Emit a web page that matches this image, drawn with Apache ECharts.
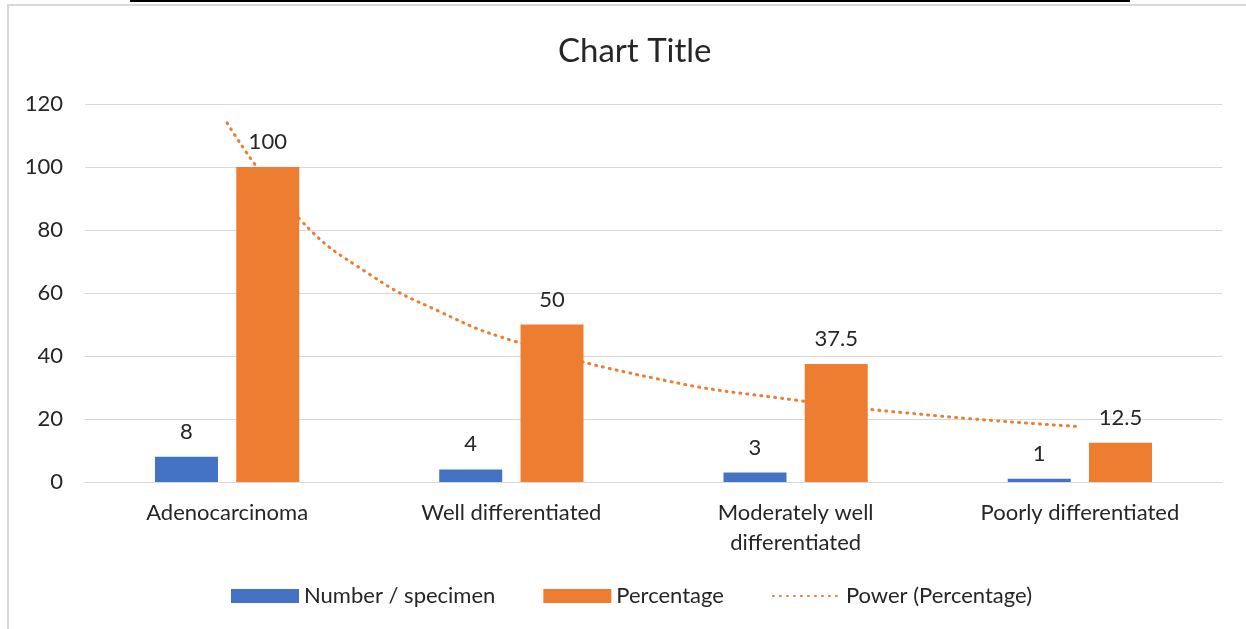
<!DOCTYPE html>
<html>
<head>
<meta charset="utf-8">
<title>Chart Title</title>
<script src="https://cdn.jsdelivr.net/npm/echarts@6/dist/echarts.min.js"></script>
<style>
  html, body { margin: 0; padding: 0; background: #fff; }
  #chart { width: 1246px; height: 629px; }
</style>
</head>
<body>
<div id="chart"></div>
<script>
  // values
  var categories = ['Adenocarcinoma', 'Well differentiated', 'Moderately well\ndifferentiated', 'Poorly differentiated'];
  var numberSpecimen = [8, 4, 3, 1];
  var percentage = [100, 50, 37.5, 12.5];
  // dotted power trend, read at positions along the category axis (1 = first category)
  var trendX = [1, 1.25, 1.5, 1.75, 2, 2.5, 3, 3.5, 4];
  var trendY = [114, 84, 66, 54, 45, 33, 26, 21, 17.6];
  var yTicks = { min: 0, max: 120, interval: 20 };

  var trendData = trendX.map(function (x, i) { return [x, trendY[i]]; });
  var font = 'Lato, "Open Sans", sans-serif';
  var textColor = '#262626';

  var chart = echarts.init(document.getElementById('chart'));
  chart.setOption({
    animation: false,
    textStyle: { fontFamily: font },
    title: {
      text: 'Chart Title',
      left: 553,
      top: 30,
      textStyle: { fontSize: 33, fontWeight: 'normal', color: '#262626', fontFamily: font }
    },
    graphic: [
      // chart frame
      { type: 'rect', shape: { x: 8, y: 5, width: 1250, height: 640 }, style: { fill: 'none', stroke: '#d9d9d9', lineWidth: 2 }, silent: true },
      // bit of table above the chart
      { type: 'polyline', shape: { points: [[131, -2], [131, 1], [1129, 1], [1129, -2]] }, style: { fill: 'none', stroke: '#000', lineWidth: 2 }, silent: true },
      { type: 'line', shape: { x1: 643, y1: -2, x2: 643, y2: 1 }, style: { stroke: '#000', lineWidth: 2 }, silent: true },
      { type: 'line', shape: { x1: 917, y1: -2, x2: 917, y2: 1 }, style: { stroke: '#000', lineWidth: 2 }, silent: true }
    ],
    legend: {
      top: 580,
      left: 226,
      itemWidth: 68,
      itemHeight: 14,
      itemGap: 48,
      textStyle: { fontSize: 22, color: textColor, fontFamily: font },
      data: [
        { name: 'Number / specimen', icon: 'rect' },
        { name: 'Percentage', icon: 'rect' },
        { name: 'Power (Percentage)', itemStyle: { opacity: 0 } }
      ]
    },
    grid: { left: 85, right: 24, top: 104, bottom: 147 },
    xAxis: [
      {
        type: 'category',
        data: categories,
        axisLine: { lineStyle: { color: '#d9d9d9', width: 1 } },
        axisTick: { show: false },
        axisLabel: { fontSize: 22, color: textColor, margin: 16, lineHeight: 30, interval: 0, fontFamily: font }
      },
      {
        type: 'value',
        min: 0.5,
        max: 4.5,
        show: false
      }
    ],
    yAxis: {
      type: 'value',
      min: yTicks.min,
      max: yTicks.max,
      interval: yTicks.interval,
      axisLine: { show: false },
      axisTick: { show: false },
      splitLine: { lineStyle: { color: '#d9d9d9', width: 1 } },
      axisLabel: { fontSize: 22, color: textColor, margin: 22, fontFamily: font }
    },
    series: [
      {
        name: 'Number / specimen',
        type: 'bar',
        data: numberSpecimen,
        barWidth: 63,
        barGap: '29%',
        z: 3,
        itemStyle: { color: '#4472C4' },
        label: { show: true, position: 'top', distance: 14, fontSize: 22, color: textColor, fontFamily: font }
      },
      {
        name: 'Percentage',
        type: 'bar',
        data: percentage,
        barWidth: 63,
        barGap: '29%',
        z: 3,
        itemStyle: { color: '#ED7D31' },
        label: { show: true, position: 'top', distance: 14, fontSize: 22, color: textColor, fontFamily: font }
      },
      {
        name: 'Power (Percentage)',
        type: 'line',
        xAxisIndex: 1,
        data: trendData,
        smooth: true,
        symbol: 'none',
        z: 2,
        itemStyle: { color: '#ED7D31' },
        lineStyle: { color: '#ED7D31', width: 3, type: [1, 6], cap: 'round' }
      }
    ]
  });
</script>
</body>
</html>
